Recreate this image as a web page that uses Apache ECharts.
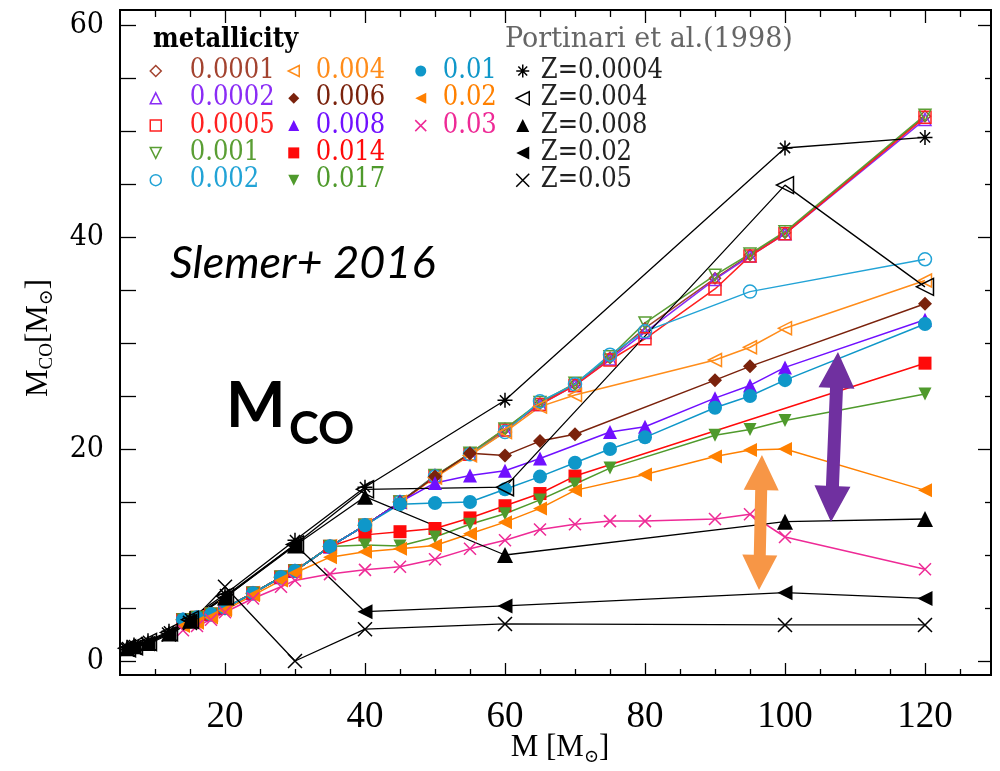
<!DOCTYPE html>
<html><head><meta charset="utf-8">
<script src="https://cdn.jsdelivr.net/npm/echarts@6/dist/echarts.min.js"></script>
<style>html,body{margin:0;padding:0;background:#fff}#c{width:1000px;height:771px}</style>
</head><body><div id="c"></div>
<script>
// ---------------- data ----------------
const slemerMasses = [14,16,18,20,24,28,30,35,40,45,50,55,60,65,70,75,80,90,95,100,120];
const z0001 = [3.9,4.1,4.4,5.0,6.4,7.9,8.5,10.8,12.8,15.0,17.4,19.6,21.9,24.3,26.1,28.6,31.4,36.1,38.3,40.4,51.4];
const z0002 = [3.9,4.1,4.4,5.0,6.4,7.9,8.5,10.8,12.8,15.0,17.5,19.5,21.8,24.2,26.0,28.5,31.0,36.0,38.2,40.3,51.1];
const z0005 = [3.9,4.1,4.4,5.0,6.4,7.9,8.5,10.8,12.8,15.0,17.4,19.5,21.8,24.2,26.0,28.4,30.4,35.1,38.2,40.3,51.3];
const z001  = [3.9,4.1,4.4,5.0,6.4,7.9,8.5,10.8,12.8,15.0,17.5,19.6,21.9,24.4,26.2,28.7,31.9,36.4,38.4,40.5,51.5];
const z002  = [3.9,4.1,4.4,5.0,6.4,7.9,8.5,10.8,12.8,15.0,17.4,19.5,21.6,24.5,26.1,28.9,31.1,null,34.85,null,37.9];
const z004  = [3.9,4.1,4.4,5.0,6.4,7.9,8.5,10.8,12.8,15.0,17.3,19.4,21.6,24.0,25.1,null,null,28.4,29.6,31.4,35.9];
const z006  = [3.9,4.1,4.4,5.0,6.4,7.9,8.5,10.8,12.8,15.0,17.4,19.6,19.4,20.75,21.4,null,null,26.5,27.8,null,33.7];
const z008  = [3.9,4.1,4.4,5.0,6.4,7.9,8.5,10.8,12.8,15.0,16.8,17.5,17.95,19.1,null,21.6,22.1,24.8,26.0,27.7,32.2];
const z01   = [3.9,4.1,4.4,5.0,6.4,7.9,8.5,10.8,12.8,14.8,14.9,15.0,16.2,17.4,18.7,20.0,21.1,23.9,25.0,26.5,31.8];
const z014  = [3.9,4.1,4.4,5.0,6.4,7.9,8.5,10.8,11.9,12.2,12.5,13.5,14.65,15.8,17.45,null,null,null,null,null,28.1];
const z017  = [3.9,4.1,4.4,5.0,6.4,7.9,8.5,10.8,10.95,10.85,11.7,12.9,13.9,15.2,16.7,18.2,null,21.3,21.85,22.7,25.2];
const z02   = [3.3,3.6,4.1,4.8,6.2,7.6,8.3,9.8,10.3,10.6,10.9,12.0,13.1,14.4,16.1,null,17.6,19.3,19.9,20.0,16.1];
const z03   = [2.9,3.3,3.9,4.6,5.9,7.0,7.6,8.2,8.6,8.9,9.6,10.6,11.4,12.4,12.9,13.2,13.2,13.4,13.85,11.7,8.65];

const portinariMasses = [6,7,9,12,15,20,30,40,60,100,120];
const p0004 = [1.3,1.5,1.9,2.8,4.0,6.3,11.4,16.4,24.6,48.4,49.4];
const p004  = [1.2,1.4,1.8,2.7,3.9,6.1,11.0,16.2,16.4,44.9,35.3];
const p008  = [1.2,1.4,1.7,2.6,3.8,6.0,10.9,15.5,10.0,13.15,13.4];
const p02   = [1.1,1.3,1.7,2.6,3.8,6.0,11.0,4.65,5.2,6.45,5.9];
const p05   = [1.1,1.3,1.6,2.5,3.6,7.0,0.0,3.0,3.5,3.4,3.4];

const xMajorTicks = [20,40,60,80,100,120];
const xMinorTicks = [10,15,25,30,35,45,50,55,65,70,75,85,90,95,105,110,115,125];
const yMajorTicks = [0,20,40,60];
const yMinorTicks = [5,10,15,25,30,35,45,50,55];

// ---------------- styles ----------------
const X_MIN = 5, X_MAX = 129.43, Y_MIN = -1.32, Y_MAX = 61.42;
const SERIF_C = "'DejaVu Serif Condensed','DejaVu Serif',serif";
const SERIF = "'DejaVu Serif',serif";
const TIMES = "'Liberation Serif','DejaVu Serif',serif";
const SYM = {
  diamond: 'diamond', tri: 'triangle', square: 'rect', circle: 'circle',
  down: 'path://M0,0L10,0L5,10Z',
  left: 'path://M10,0L10,10L0,5Z',
  cross: 'path://M0,0L10,10M10,0L0,10',
  star: 'path://M5,0L5,10M0,5L10,5M1.6,1.6L8.4,8.4M8.4,1.6L1.6,8.4'
};
const slemerSpecs = [
  {name:'0.0001', v:z0001, color:'#a3432f', sym:'diamond', open:true,  size:11},
  {name:'0.0002', v:z0002, color:'#8a2cf5', sym:'tri',     open:true,  size:12},
  {name:'0.0005', v:z0005, color:'#ff2020', sym:'square',  open:true,  size:12},
  {name:'0.001',  v:z001,  color:'#5a9e34', sym:'down',    open:true,  size:12},
  {name:'0.002',  v:z002,  color:'#22a3d6', sym:'circle',  open:true,  size:13},
  {name:'0.004',  v:z004,  color:'#ff8c1a', sym:'left',    open:true,  size:13},
  {name:'0.006',  v:z006,  color:'#7a220c', sym:'diamond', open:false, size:14},
  {name:'0.008',  v:z008,  color:'#7010ff', sym:'tri',     open:false, size:14},
  {name:'0.014',  v:z014,  color:'#ff0a0a', sym:'square',  open:false, size:13},
  {name:'0.017',  v:z017,  color:'#4f9a2c', sym:'down',    open:false, size:13},
  {name:'0.01',   v:z01,   color:'#0f97c9', sym:'circle',  open:false, size:14},
  {name:'0.02',   v:z02,   color:'#ff8000', sym:'left',    open:false, size:14},
  {name:'0.03',   v:z03,   color:'#ee2a96', sym:'cross',   open:true,  size:12}
];
const portSpecs = [
  {name:'Z=0.0004', v:p0004, color:'#000', sym:'star',  open:true,  size:15},
  {name:'Z=0.004',  v:p004,  color:'#000', sym:'left',  open:true,  size:17},
  {name:'Z=0.008',  v:p008,  color:'#000', sym:'tri',   open:false, size:16},
  {name:'Z=0.02',   v:p02,   color:'#000', sym:'left',  open:false, size:15},
  {name:'Z=0.05',   v:p05,   color:'#000', sym:'cross', open:true,  size:14}
];

function pairs(xs, ys){ const out=[]; xs.forEach((x,i)=>{ if(ys[i]!=null) out.push([x,ys[i]]); }); return out; }
function itemStyleOf(s){ return s.open ? {color:'rgba(0,0,0,0)', borderColor:s.color, borderWidth:1.5}
                                        : {color:s.color, borderColor:s.color, borderWidth:0}; }
function mkSeries(s, xs, lw){
  return {type:'line', name:s.name, data:pairs(xs, s.v), symbol:SYM[s.sym], symbolSize:s.size,
    itemStyle:itemStyleOf(s), lineStyle:{color:s.color, width:lw}, emphasis:{disabled:true}, z:2};
}
const allSpecs = slemerSpecs.concat(portSpecs);
function specOf(n){ return allSpecs.find(s=>s.name===n); }

function legendCol(names, iconX, textX, rowY, iconSize, fontSize, textColor){
  const lh = 22, rowStep = 27;
  return {orient:'vertical', left: iconX - iconSize/2, top: rowY - fontSize/2 + 2, padding:0,
    itemGap: rowStep - fontSize + 0.3, itemWidth: iconSize, itemHeight: iconSize, selectedMode:false,
    textStyle:{fontFamily:SERIF_C, fontSize:fontSize, lineHeight:lh,
      padding:[0,0,0, textX - (iconX + iconSize/2) - 5]},
    data: names.map(n=>{ const s=specOf(n); return {name:n, icon:SYM[s.sym],
      itemStyle:itemStyleOf(s), textStyle:{color: textColor || s.color}}; })
  };
}

function axis(dim, pos, vals, len, labels){
  const a = {type:'value', position:pos, gridIndex:0,
    min: dim==='x'?X_MIN:Y_MIN, max: dim==='x'?X_MAX:Y_MAX,
    axisLine:{show:true, onZero:false, lineStyle:{color:'#000', width:2}},
    axisTick:{show:true, inside:true, length:len, customValues:vals, lineStyle:{color:'#000', width:1.3}},
    axisLabel:{show:labels, customValues:vals},
    splitLine:{show:false}, minorTick:{show:false}};
  if (labels) {
    if (dim==='x') Object.assign(a.axisLabel, {fontFamily:TIMES, fontSize:37, color:'#000', margin:24});
    else Object.assign(a.axisLabel, {fontFamily:SERIF_C, fontSize:30, color:'#000', margin:16});
  }
  return a;
}

const chart = echarts.init(document.getElementById('c'), null, {renderer:'canvas'});
const option = {
  animation:false,
  backgroundColor:'#fff',
  grid:{left:120, right:9, top:10, bottom:96},
  xAxis:[axis('x','bottom',xMajorTicks,12,true), axis('x','bottom',xMinorTicks,6,false),
         axis('x','top',xMajorTicks,13,false), axis('x','top',xMinorTicks,7,false)],
  yAxis:[axis('y','left',yMajorTicks,16,true), axis('y','left',yMinorTicks,16,false),
         axis('y','right',yMajorTicks,13,false), axis('y','right',yMinorTicks,6,false)],
  legend:[
    legendCol(['0.0001','0.0002','0.0005','0.001','0.002'], 155, 189, 69, 11, 27),
    legendCol(['0.004','0.006','0.008','0.014','0.017'], 293, 315, 69, 11, 27),
    legendCol(['0.01','0.02','0.03'], 420, 442, 69, 11, 27),
    legendCol(['Z=0.0004','Z=0.004','Z=0.008','Z=0.02','Z=0.05'], 522, 540, 69, 13, 27, '#222')
  ],
  series: slemerSpecs.map(s=>mkSeries(s, slemerMasses, 1.5)).concat(portSpecs.map(s=>mkSeries(s, portinariMasses, 1.3)))
};
chart.setOption(option);

// ---------------- annotations ----------------
const arrows = [
  {color:'#f79646', top:[96.71,19.43], bottom:[96.29,6.70], head:35, headHalf:17.5, shaftHalf:6},
  {color:'#7030a0', top:[107.57,29.15], bottom:[106.57,13.11], head:36, headHalf:18, shaftHalf:6.5}
];
function arrowPoly(a){
  const p1 = chart.convertToPixel({xAxisIndex:0, yAxisIndex:0}, a.top);
  const p2 = chart.convertToPixel({xAxisIndex:0, yAxisIndex:0}, a.bottom);
  const dx=p2[0]-p1[0], dy=p2[1]-p1[1], L=Math.hypot(dx,dy);
  const u=[dx/L,dy/L], n=[-u[1],u[0]];
  const P=(base,along,side)=>[base[0]+u[0]*along+n[0]*side, base[1]+u[1]*along+n[1]*side];
  const pts=[p1, P(p1,a.head,a.headHalf), P(p1,a.head,a.shaftHalf), P(p2,-a.head,a.shaftHalf), P(p2,-a.head,a.headHalf), p2,
             P(p2,-a.head,-a.headHalf), P(p2,-a.head,-a.shaftHalf), P(p1,a.head,-a.shaftHalf), P(p1,a.head,-a.headHalf)];
  return {type:'polygon', shape:{points:pts}, style:{fill:a.color}, z:10, silent:true};
}
const graphics = [
  {type:'text', x:153, y:40, z:10, style:{text:'metallicity', fill:'#000', font:"bold 27px "+SERIF_C, verticalAlign:'middle'}},
  {type:'text', x:505, y:40, z:10, style:{text:'Portinari et al.(1998)', fill:'#666', font:"27px "+SERIF, verticalAlign:'middle'}},
  {type:'text', x:170, y:263, z:10, style:{text:'Slemer+ 2016', fill:'#000', font:"italic 45px Lato, 'Open Sans', sans-serif", verticalAlign:'middle'}},
  {type:'text', x:226, y:407, z:10, style:{text:'M', fill:'#000', font:"bold 63px Lato, 'Open Sans', sans-serif", verticalAlign:'middle'}},
  {type:'text', x:289, y:429, z:10, style:{text:'CO', fill:'#000', font:"bold 45px Lato, 'Open Sans', sans-serif", verticalAlign:'middle'}},
  {type:'text', x:39, y:338, rotation:Math.PI/2, z:10, style:{text:'{a|M}{s|CO}{a|[M}{s|⊙}{a|]}', align:'center', verticalAlign:'middle',
     rich:{a:{fontFamily:TIMES, fontSize:31, lineHeight:36, fill:'#000'}, s:{fontFamily:TIMES, fontSize:19, lineHeight:18, verticalAlign:'bottom', fill:'#000'}}}},
  {type:'text', x:560, y:748, z:10, style:{text:'{a|M [M}{s|⊙}{a|]}', align:'center', verticalAlign:'middle',
     rich:{a:{fontFamily:TIMES, fontSize:31, lineHeight:36, fill:'#000'}, s:{fontFamily:TIMES, fontSize:18, lineHeight:18, verticalAlign:'bottom', fill:'#000'}}}}
].concat(arrows.map(arrowPoly));
chart.setOption({graphic:graphics});
</script></body></html>
